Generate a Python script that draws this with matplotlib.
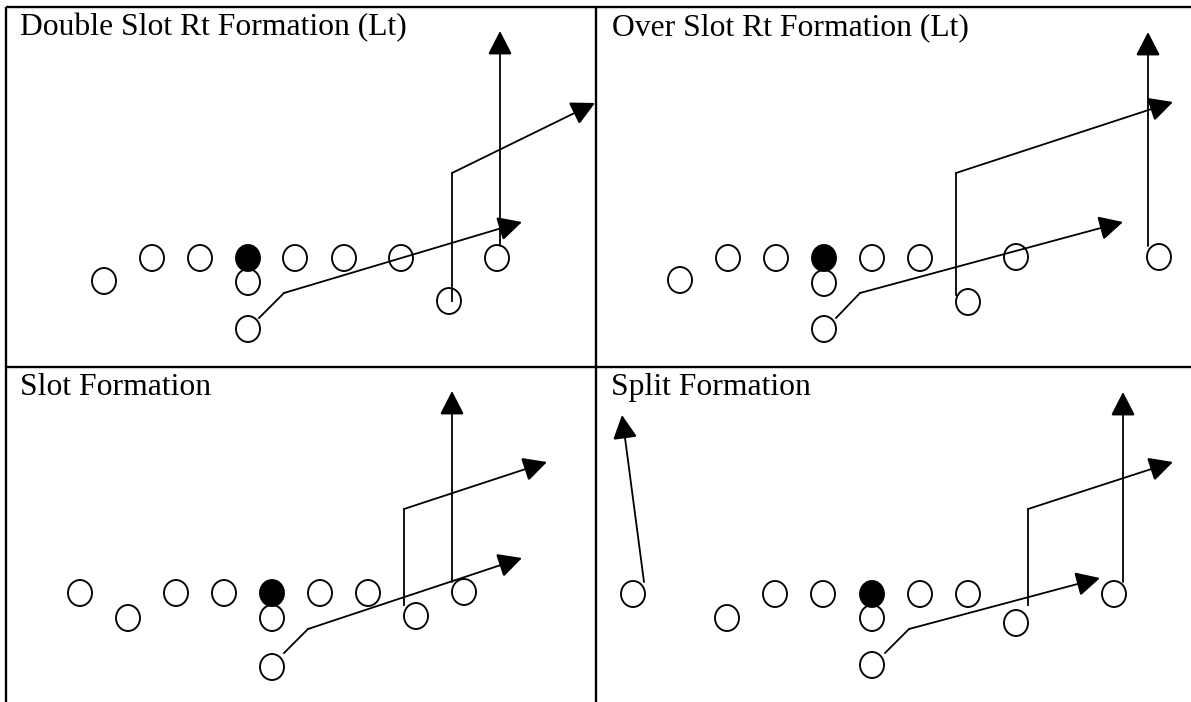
import matplotlib
matplotlib.use("Agg")
import matplotlib.pyplot as plt
from matplotlib.patches import Ellipse, FancyArrowPatch

# ---------------- data (pixel positions) ----------------
panel_titles = ["Double Slot Rt Formation (Lt)", "Over Slot Rt Formation (Lt)",
                "Slot Formation", "Split Formation"]
title_pos = [(20, 35), (612, 35), (20, 395), (611, 395)]

p1_open = [(104, 281), (152, 258), (200, 258), (295, 258), (344, 258), (401, 258),
           (497, 258), (248, 282), (449, 301), (248, 329)]
p1_center = [(248, 258)]
p1_routes = [[(259, 318), (284, 293), (522, 222)],
             [(452, 301), (452, 173), (595, 103)],
             [(500, 246), (500, 31)]]

p2_open = [(680, 280), (728, 258), (776, 258), (872, 258), (920, 258), (1016, 257),
           (1159, 257), (824, 283), (968, 302), (824, 329)]
p2_center = [(824, 258)]
p2_routes = [[(836, 318), (860, 293), (1123, 222)],
             [(956, 295), (956, 173), (1173, 102)],
             [(1148, 246), (1148, 32)]]

p3_open = [(80, 593), (128, 618), (176, 593), (224, 593), (320, 593), (368, 593),
           (464, 592), (272, 618), (416, 616), (272, 667)]
p3_center = [(272, 593)]
p3_routes = [[(284, 653), (308, 629), (522, 558)],
             [(404, 605), (404, 509), (547, 462)],
             [(452, 582), (452, 391)]]

p4_open = [(633, 594), (727, 618), (775, 594), (823, 594), (920, 594), (968, 594),
           (1114, 594), (872, 618), (1016, 623), (872, 665)]
p4_center = [(872, 594)]
p4_routes = [[(644, 582), (622, 415)],
             [(885, 653), (909, 629), (1100, 578)],
             [(1028, 605), (1028, 509), (1173, 462)],
             [(1123, 582), (1123, 392)]]

# frame lines of the 2x2 table
frame_h = [(7, 6, 1191), (367, 6, 1191)]          # (y, x0, x1)
frame_v = [(6, 7, 702), (596, 7, 702)]            # (x, y0, y1)

# ---------------- drawing ----------------
W, H = 1191, 702
fig = plt.figure(figsize=(W / 100, H / 100), dpi=100)
ax = fig.add_axes([0, 0, 1, 1])
ax.set_xlim(0, W)
ax.set_ylim(H, 0)
ax.axis("off")

for y, x0, x1 in frame_h:
    ax.plot([x0, x1], [y, y], color="black", lw=1.7, solid_capstyle="butt")
for x, y0, y1 in frame_v:
    ax.plot([x, x], [y0, y1], color="black", lw=1.7, solid_capstyle="butt")

for t, (tx, ty) in zip(panel_titles, title_pos):
    ax.text(tx, ty, t, fontsize=22.8, family="Liberation Serif",
            ha="left", va="baseline", color="black")

panels = [(p1_open, p1_center, p1_routes), (p2_open, p2_center, p2_routes),
          (p3_open, p3_center, p3_routes), (p4_open, p4_center, p4_routes)]

for opens, centers, routes in panels:
    for (x, y) in opens:
        ax.add_patch(Ellipse((x, y), 24, 26, fill=False, ec="black", lw=1.35))
    for (x, y) in centers:
        ax.add_patch(Ellipse((x, y), 24, 26, fc="black", ec="black", lw=1.35))
    for r in routes:
        xs = [p[0] for p in r]
        ys = [p[1] for p in r]
        if len(r) > 2:
            ax.plot(xs[:-1], ys[:-1], color="black", lw=1.3, solid_joinstyle="miter")
        arr = FancyArrowPatch((xs[-2], ys[-2]), (xs[-1], ys[-1]),
                              arrowstyle="-|>,head_length=14.8,head_width=7.6",
                              mutation_scale=1, shrinkA=0, shrinkB=0,
                              color="black", lw=1.3, joinstyle="miter")
        ax.add_patch(arr)

fig.savefig("out.png", dpi=100)
